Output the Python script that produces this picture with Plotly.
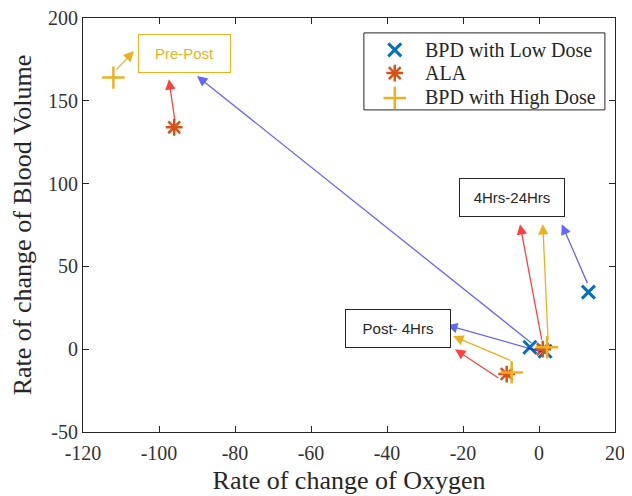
import plotly.graph_objects as go

# ---- data ----
series_names = ["BPD with Low Dose", "ALA", "BPD with High Dose"]
low_x = [-2.4, 1.6, 13.0]
low_y = [1.2, -1.2, 34.5]
ala_x = [-96.0, 1.0, -8.5]
ala_y = [134.0, 0.0, -15.0]
high_x = [-112.0, 2.1, -7.2]
high_y = [164.0, 1.2, -14.0]

# arrows: (tail_x, tail_y, head_x, head_y)
arrow_colors = ["rgba(0,0,255,0.6)", "rgba(255,0,0,0.75)", "#EDB120"]
arrows_low = [(-1.6, 3.0, -90.0, 165.0), (1.0, -1.8, -24.2, 14.5), (12.9, 39.0, 6.0, 75.5)]
arrows_ala = [(-95.8, 137.7, -97.4, 163.0), (-10.3, -18.0, -22.1, 0.0), (0.8, 4.8, -5.0, 75.5)]
arrows_high = [(-111.6, 167.9, -106.6, 180.0), (-7.1, -7.2, -22.6, 7.9), (2.4, 4.8, 1.0, 75.5)]

labels = ["Pre-Post", "Post- 4Hrs", "4Hrs-24Hrs"]
label_x = [-93.3, -37.1, -7.2]
label_y = [178.4, 12.7, 91.8]
label_colors = ["#EDB120", "#262626", "#262626"]

x_ticks = [-120, -100, -80, -60, -40, -20, 0, 20]
x_tick_text = ["-120", "-100", "-80", "-60", "-40", "-20", "0", "20"]
y_ticks = [-50, 0, 50, 100, 150, 200]
y_tick_text = ["-50", "0", "50", "100", "150", "200"]

serif = "Liberation Serif, Times New Roman, serif"
sans = "Liberation Sans, Arial, sans-serif"

colors = ["#0072BD", "#D95319", "#EDB120"]
markers = [dict(symbol="x-thin-open", size=13, line_width=3),
           dict(symbol="asterisk-open", size=14, line_width=2.5),
           dict(symbol="cross-thin-open", size=16, line_width=2.5)]

fig = go.Figure()
for name, xs, ys, c, m in zip(series_names, [low_x, ala_x, high_x], [low_y, ala_y, high_y],
                              colors, markers):
    fig.add_trace(go.Scatter(x=xs, y=ys, mode="markers", name=name, showlegend=False,
                             marker=dict(symbol=m["symbol"], size=m["size"], color=c,
                                         line=dict(width=m["line_width"], color=c))))

# legend (custom, placed in an overlay unit axis)
leg_sym_x = 0.586
leg_text_x = 0.639
leg_rows = [0.923, 0.867, 0.807]
for name, c, m, ry in zip(series_names, colors, markers, leg_rows):
    fig.add_trace(go.Scatter(x=[leg_sym_x], y=[ry], xaxis="x2", yaxis="y2", mode="markers",
                             showlegend=False, hoverinfo="skip",
                             marker=dict(symbol=m["symbol"], size=m["size"], color=c,
                                         line=dict(width=m["line_width"], color=c))))

annotations = []
for arrs, col in zip([arrows_low, arrows_ala, arrows_high], arrow_colors):
    for tx, ty, hx, hy in arrs:
        annotations.append(dict(x=hx, y=hy, ax=tx, ay=ty, xref="x", yref="y",
                                axref="x", ayref="y", text="", showarrow=True,
                                arrowhead=2, arrowsize=1.6, arrowwidth=1.3,
                                arrowcolor=col, standoff=0, startstandoff=0))
for t, lx, ly, lc in zip(labels, label_x, label_y, label_colors):
    annotations.append(dict(x=lx, y=ly, xref="x", yref="y", text=t, showarrow=False,
                            font=dict(family=sans, size=15, color=lc),
                            bordercolor=lc, borderwidth=1, bgcolor="white",
                            width=89 if t == "Pre-Post" else 102, height=35, borderpad=1))
for name, ry in zip(series_names, leg_rows):
    annotations.append(dict(x=leg_text_x, y=ry, xref="paper", yref="paper", text=name,
                            showarrow=False, xanchor="left", yanchor="middle",
                            font=dict(family=serif, size=20, color="#262626")))

# page body adds ~8px offset; margins compensate
fig.update_layout(
    width=632, height=496,
    margin=dict(l=75, r=25, t=10, b=72, autoexpand=False),
    paper_bgcolor="white", plot_bgcolor="white",
    showlegend=False,
    annotations=annotations,
    shapes=[dict(type="rect", xref="paper", yref="paper", x0=0.528, x1=0.981,
                 y0=0.778, y1=0.964, line=dict(color="#262626", width=1),
                 fillcolor="white", layer="below")],
    xaxis2=dict(overlaying="x", range=[0, 1], visible=False, fixedrange=True),
    yaxis2=dict(overlaying="y", range=[0, 1], visible=False, fixedrange=True),
)
axis_common = dict(showgrid=False, zeroline=False, showline=True, linecolor="#262626",
                   linewidth=1, mirror="ticks", ticks="inside", ticklen=6, automargin=False,
                   ticklabeloverflow="allow",
                   tickcolor="#262626", tickfont=dict(family=serif, size=20, color="#333333"))
fig.layout.xaxis.update(range=[-120, 20], tickvals=x_ticks, ticktext=x_tick_text,
                        ticklabelstandoff=3,
                        title=dict(text="Rate of change of Oxygen", standoff=7,
                                   font=dict(family=serif, size=26, color="#262626")),
                        **axis_common)
fig.layout.yaxis.update(range=[-50, 200], tickvals=y_ticks, ticktext=y_tick_text,
                        title=dict(text="Rate of change of Blood Volume", standoff=12,
                                   font=dict(family=serif, size=26, color="#262626")),
                        **axis_common)

fig.write_html("out.html")
